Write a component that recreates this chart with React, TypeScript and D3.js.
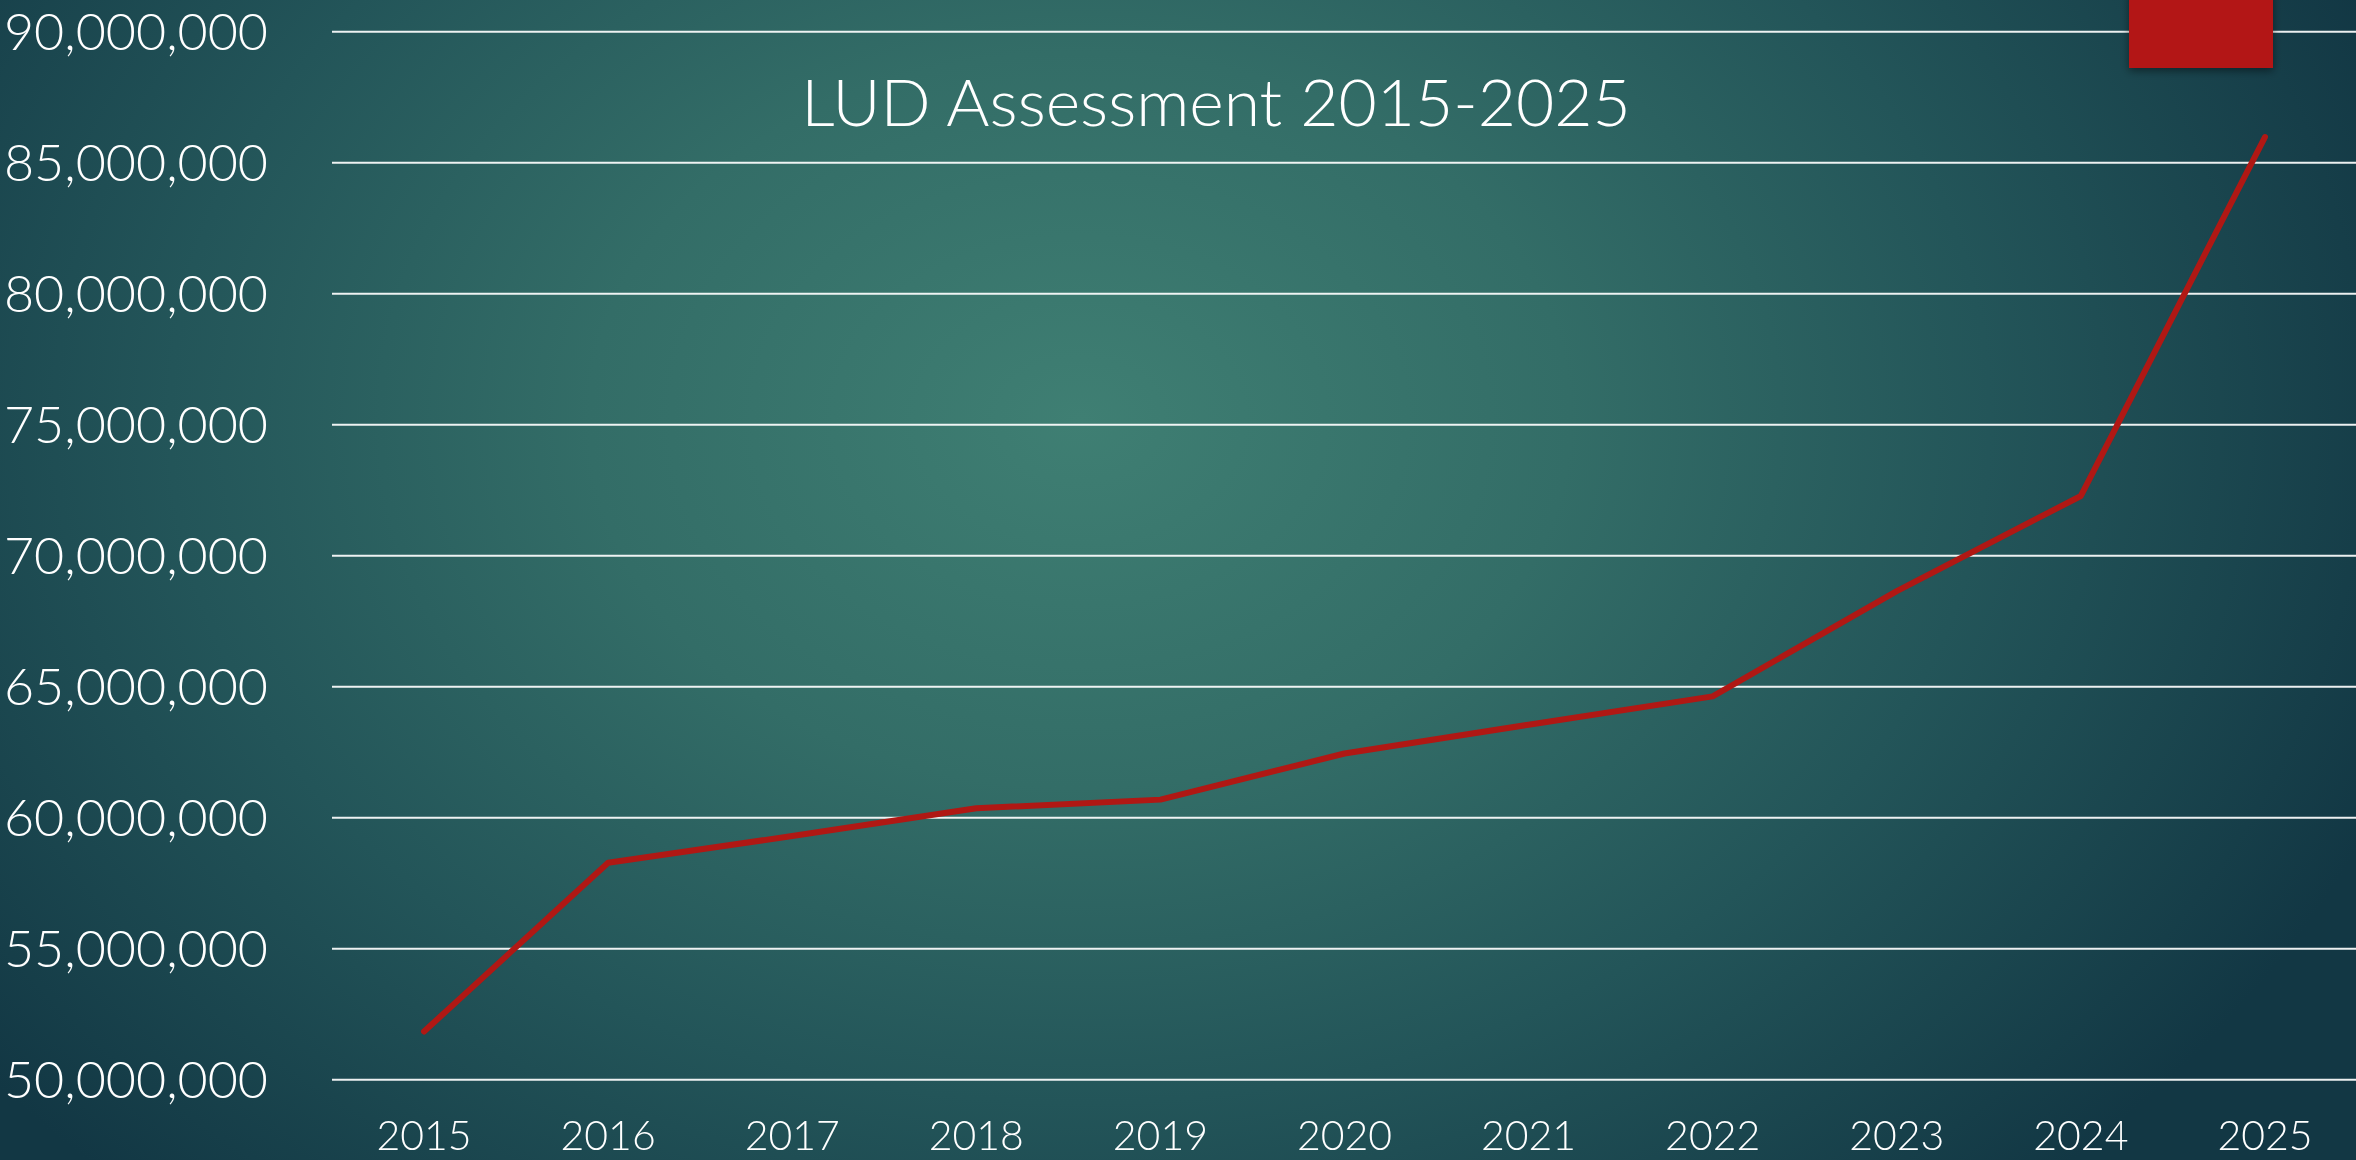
import React from "react";
import * as d3 from "d3";

const years: string[] = ["2015","2016","2017","2018","2019","2020","2021","2022","2023","2024","2025"];
const assessment: number[] = [51.84e6, 58.28e6, 59.3e6, 60.36e6, 60.69e6, 62.45e6, 63.55e6, 64.63e6, 68.65e6, 72.28e6, 85.98e6];
const yTicks: number[] = [50e6, 55e6, 60e6, 65e6, 70e6, 75e6, 80e6, 85e6, 90e6];
const title = "LUD Assessment 2015-2025";

const W = 2356, H = 1160;
const FONT = "'Century Gothic', Lato, 'DejaVu Sans', sans-serif";

export default function App() {
  const x = d3.scaleBand<string>().domain(years).range([332, 2357]).padding(0);
  const y = d3.scaleLinear().domain([50e6, 90e6]).range([1079.7, 31.7]);
  const fmt = d3.format(",");
  const line = d3.line<number>()
    .x((_, i) => (x(years[i]) as number) + x.bandwidth() / 2)
    .y((d) => y(d));

  return (
    <svg width={W} height={H} style={{ position: "fixed", left: 0, top: 0, display: "block" }}>
      <defs>
        <radialGradient id="bg" cx="1080" cy="420" r="1400" gradientUnits="userSpaceOnUse"
          gradientTransform="translate(1080 420) scale(1 0.75) translate(-1080 -420)">
          <stop offset="0" stopColor="#3f7f73" />
          <stop offset="0.35" stopColor="#336d67" />
          <stop offset="0.65" stopColor="#235559" />
          <stop offset="1" stopColor="#123744" />
        </radialGradient>
        <filter id="shadow" x="-20%" y="-20%" width="140%" height="160%">
          <feDropShadow dx="0" dy="3" stdDeviation="4" floodColor="#000" floodOpacity="0.45" />
        </filter>
      </defs>
      <rect x={0} y={0} width={W} height={H} fill="url(#bg)" />
      <g>
        {yTicks.map((t) => (
          <line key={"g" + t} x1={x.range()[0]} x2={W} y1={y(t)} y2={y(t)}
            stroke="#ffffff" strokeWidth={2} strokeOpacity={0.92} />
        ))}
      </g>
      <g fontFamily={FONT} fontWeight={300} fill="#ffffff">
        {yTicks.map((t) => (
          <text key={"l" + t} x={268} y={y(t)} dy="0.36em" textAnchor="end" fontSize={52}>
            {fmt(t)}
          </text>
        ))}
        {years.map((yr) => (
          <text key={"x" + yr} x={(x(yr) as number) + x.bandwidth() / 2} y={1135} dy="0.36em"
            textAnchor="middle" fontSize={41}>
            {yr}
          </text>
        ))}
        <text x={1216} y={102} dy="0.36em" textAnchor="middle" fontSize={66}>{title}</text>
      </g>
      <path d={line(assessment) || ""} fill="none" stroke="#b01814" strokeWidth={6}
        strokeLinejoin="round" strokeLinecap="round" />
      <rect x={2129} y={-10} width={144} height={78} fill="#b31814" filter="url(#shadow)" />
    </svg>
  );
}
